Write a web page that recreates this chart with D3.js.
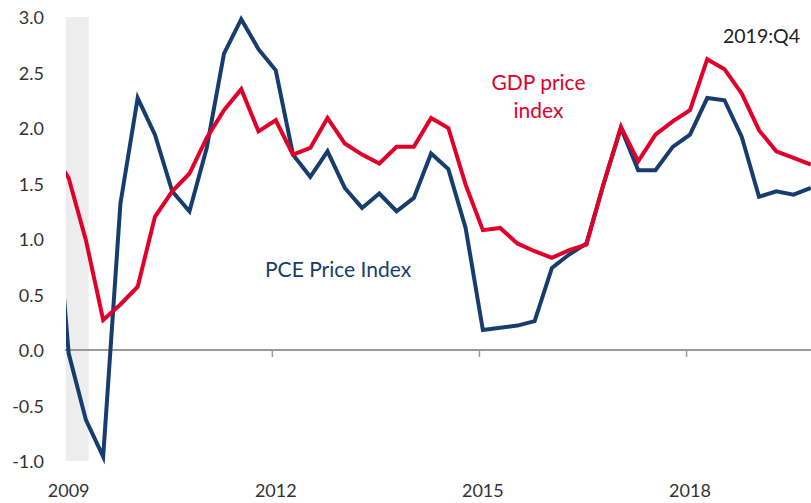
<!DOCTYPE html>
<html>
<head>
<meta charset="utf-8">
<script src="https://cdn.jsdelivr.net/npm/d3@7"></script>
<style>
  body { margin: 0; background: #fff; }
  text { font-family: Lato, "Open Sans", sans-serif; }
</style>
</head>
<body>
<script>
// quarters, starting 2008:Q4 (first point sits just left of the plot and is clipped)
const quarters = [];
for (let y = 2008; y <= 2019; y++) {
    for (let q = 1; q <= 4; q++) {
        if (y === 2008 && q < 4) continue;
        quarters.push({year: y, q: q, label: y + ':Q' + q});
    }
}

// 4-quarter percent change
const pceValues = [1.84,
    -0.03, -0.63, -0.96, 1.32,
    2.27, 1.94, 1.43, 1.25,
    1.82, 2.67, 2.98, 2.71,
    2.52, 1.76, 1.56, 1.79,
    1.46, 1.28, 1.41, 1.25,
    1.37, 1.77, 1.63, 1.10,
    0.18, 0.20, 0.22, 0.26,
    0.74, 0.86, 0.96, 1.50,
    2.00, 1.62, 1.62, 1.83,
    1.94, 2.27, 2.25, 1.92,
    1.38, 1.43, 1.40, 1.46];

const gdpValues = [1.80,
    1.55, 0.99, 0.27, 0.41,
    0.57, 1.20, 1.43, 1.59,
    1.91, 2.16, 2.35, 1.97,
    2.07, 1.76, 1.82, 2.09,
    1.86, 1.76, 1.68, 1.83,
    1.83, 2.09, 2.00, 1.49,
    1.08, 1.10, 0.96, 0.89,
    0.83, 0.90, 0.95, 1.50,
    2.01, 1.70, 1.94, 2.06,
    2.16, 2.62, 2.53, 2.31,
    1.98, 1.79, 1.73, 1.67];

const yTicks = [3.0, 2.5, 2.0, 1.5, 1.0, 0.5, 0.0, -0.5, -1.0];
const xTickYears = [2009, 2012, 2015, 2018];
const recession = [2008.96, 2009.29];

const blue = '#173d6e';
const red = '#e1002a';

let quarterTime = (d) => d.year + (d.q - 1) / 4;

let main = () => {
    const width = 811;
    const height = 503;
    const plotLeft = 66;
    const plotRight = 811;

    let svg = d3.select('body')
        .append('svg')
        .attr('width', width)
        .attr('height', height);

    let x = d3.scaleLinear()
        .domain([2009, 2019.75])
        .range([68.65, 810.8]);

    let y = d3.scaleLinear()
        .domain([-1, 3])
        .range([461, 17]);

    svg.append('clipPath')
        .attr('id', 'plot')
        .append('rect')
        .attr('x', plotLeft)
        .attr('y', 0)
        .attr('width', plotRight - plotLeft)
        .attr('height', height);

    // recession shading
    svg.append('rect')
        .attr('x', x(recession[0]))
        .attr('y', y(3))
        .attr('width', x(recession[1]) - x(recession[0]))
        .attr('height', y(-1) - y(3))
        .attr('fill', '#ededed');

    // y labels
    svg.append('g')
        .selectAll('text')
        .data(yTicks)
        .enter()
        .append('text')
        .attr('x', 44)
        .attr('y', d => y(d) + 7)
        .attr('text-anchor', 'end')
        .attr('font-size', 18)
        .attr('fill', '#333')
        .text(d => d3.format('.1f')(d).replace('\u2212', '-'));

    // zero line with year ticks
    svg.append('line')
        .attr('x1', 65)
        .attr('x2', plotRight)
        .attr('y1', y(0))
        .attr('y2', y(0))
        .attr('stroke', '#9a9a9a')
        .attr('stroke-width', 2);

    svg.append('g')
        .selectAll('line')
        .data(xTickYears.filter(d => d > 2009))
        .enter()
        .append('line')
        .attr('x1', d => x(d) - 3.4)
        .attr('x2', d => x(d) - 3.4)
        .attr('y1', y(0))
        .attr('y2', y(0) + 7)
        .attr('stroke', '#9a9a9a')
        .attr('stroke-width', 1.5);

    svg.append('g')
        .selectAll('text')
        .data(xTickYears)
        .enter()
        .append('text')
        .attr('x', d => x(d))
        .attr('y', 497)
        .attr('text-anchor', 'middle')
        .attr('font-size', 18)
        .attr('fill', '#333')
        .text(d => d);

    let line = (values) => d3.line()
        .x((d, i) => x(quarterTime(quarters[i])))
        .y(d => y(d))(values);

    let lines = svg.append('g').attr('clip-path', 'url(#plot)');

    lines.append('path')
        .attr('d', line(pceValues))
        .attr('fill', 'none')
        .attr('stroke', blue)
        .attr('stroke-width', 4);

    lines.append('path')
        .attr('d', line(gdpValues))
        .attr('fill', 'none')
        .attr('stroke', red)
        .attr('stroke-width', 4);

    // annotations
    svg.append('text')
        .attr('x', 800)
        .attr('y', 43)
        .attr('text-anchor', 'end')
        .attr('font-size', 19.5)
        .attr('fill', '#222')
        .text('2019:Q4');

    let gdpLabel = svg.append('text')
        .attr('text-anchor', 'middle')
        .attr('font-size', 21)
        .attr('fill', red);
    gdpLabel.append('tspan').attr('x', 538.5).attr('y', 90).text('GDP price');
    gdpLabel.append('tspan').attr('x', 538.5).attr('y', 118).text('index');

    svg.append('text')
        .attr('x', 265)
        .attr('y', 277)
        .attr('font-size', 21)
        .attr('fill', blue)
        .text('PCE Price Index');
}

main()
</script>
</body>
</html>
